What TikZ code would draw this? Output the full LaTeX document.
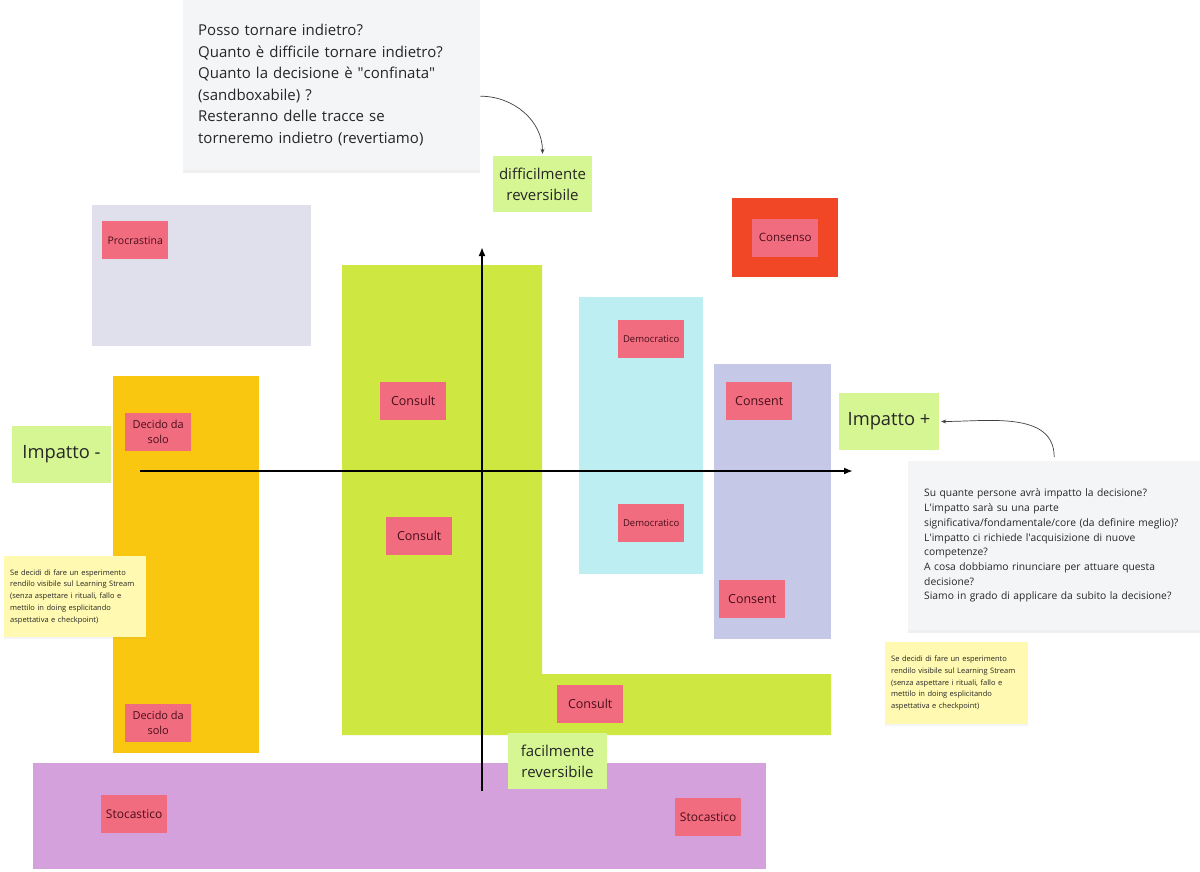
\documentclass[tikz,border=0pt]{standalone}
\usepackage{fontspec}
\setmainfont{Open Sans}
\usepackage{tikz}
\usetikzlibrary{positioning}
\usetikzlibrary{arrows.meta,shadows}

\definecolor{AreaGrey}{HTML}{E0E0EC}
\definecolor{AreaYellow}{HTML}{FAC710}
\definecolor{AreaGreen}{HTML}{CEE741}
\definecolor{AreaCyan}{HTML}{BCEEF2}
\definecolor{AreaBlue}{HTML}{C6C8E8}
\definecolor{AreaRed}{HTML}{F24726}
\definecolor{AreaPurple}{HTML}{D4A1DD}
\definecolor{StickyPink}{HTML}{F16C7F}
\definecolor{StickyText}{HTML}{4A0E1A}
\definecolor{LabelGreen}{HTML}{D5F692}
\definecolor{NoteYellow}{HTML}{FFF9B1}
\definecolor{NoteGrey}{HTML}{F4F5F7}

\newcommand{\stickyfont}{\fontsize{11}{15}\selectfont}
\newcommand{\labelfont}{\fontsize{15}{21}\selectfont}
\newcommand{\bigfont}{\fontsize{18.3}{22}\selectfont}
\newcommand{\topnotefont}{\fontsize{15}{21.5}\selectfont}
\newcommand{\rightnotefont}{\fontsize{10.3}{14.7}\selectfont}
\newcommand{\tinyfont}{\fontsize{7.5}{11.8}\selectfont}
\newcommand{\apo}{\textquotesingle}

\begin{document}
\begin{tikzpicture}[x=1pt, y=-1pt,
    area/.style = {rectangle, draw=none, inner sep=0pt, anchor=north west},
    sticky/.style = {rectangle, fill=StickyPink, minimum width=66pt, minimum height=38pt,
                     inner sep=0pt, align=center, text=StickyText, font=\stickyfont},
    axislabel/.style = {rectangle, fill=LabelGreen, inner sep=0pt, align=center, text=black!85},
    graynote/.style = {rectangle, fill=NoteGrey, anchor=north west, align=left, inner ysep=0pt,
                       text=black!85, drop shadow={shadow xshift=0pt, shadow yshift=-3pt, opacity=0.12}},
    yellownote/.style = {rectangle, fill=NoteYellow, anchor=north west, align=left, inner ysep=0pt,
                         inner xsep=6pt, text=black!85, font=\tinyfont,
                         drop shadow={shadow xshift=0pt, shadow yshift=-2pt, opacity=0.08}},
    axis/.style = {line width=1.8pt, -{Latex[length=9pt,width=7pt]}},
    hint/.style = {draw=black!75, line width=0.7pt, -{Stealth[length=5pt,width=4pt]}}
]

    \fill[white] (0,0) rectangle (1200,872);
    \useasboundingbox (0,0) rectangle (1200,872);

    %Areas
    \node[area, fill=AreaGrey, minimum width=219pt, minimum height=141pt] (procarea) at (92,205) {};
    \node[area, fill=AreaYellow, minimum width=146pt, minimum height=377pt] (soloarea) at (113,376) {};
    \fill[AreaGreen] (342,265) -- (542,265) -- (542,674) -- (831,674) -- (831,735) -- (342,735) -- cycle;
    \coordinate (consultarea) at (342,265);
    \node[area, fill=AreaCyan, minimum width=124pt, minimum height=277pt] (demoarea) at (579,297) {};
    \node[area, fill=AreaBlue, minimum width=117pt, minimum height=275pt] (consentarea) at (714,364) {};
    \node[area, fill=AreaRed, minimum width=106pt, minimum height=79pt] (consensoarea) at (732,198) {};
    \node[area, fill=AreaPurple, minimum width=733pt, minimum height=106pt] (stocarea) at (33,763) {};

    %Axes
    \coordinate (XStart) at (140,471);
    \coordinate (XEnd) at (853,471);
    \coordinate (YStart) at (482,791);
    \coordinate (YEnd) at (482,247);

    \draw[axis] (XStart) -- (XEnd);
    \draw[axis] (YStart) -- (YEnd);

    %Axis labels
    \node[axislabel, minimum width=99pt, minimum height=56pt, font=\labelfont] (Hard) at (542.5,184) {difficilmente\\reversibile};
    \node[axislabel, minimum width=99pt, minimum height=56pt, font=\labelfont] (Easy) at (557.5,761) {facilmente\\reversibile};
    \node[axislabel, minimum width=99pt, minimum height=57pt, font=\bigfont] (ImpMinus) at (61.5,454.5) {Impatto -};
    \node[axislabel, minimum width=100pt, minimum height=57pt, font=\bigfont] (ImpPlus) at (889,421.5) {Impatto +};

    %Stickies
    \node[sticky, below right = 16pt and 10pt of procarea.north west, font=\fontsize{10.5}{14}\selectfont] (Procrastina) {Procrastina};
    \node[sticky, font=\fontsize{11.5}{15}\selectfont] (Consenso) at (consensoarea) {Consenso};

    \node[sticky, below right = 37pt and 12pt of soloarea.north west] (Solo1) {Decido da\\solo};
    \node[sticky, below right = 328pt and 12pt of soloarea.north west] (Solo2) {Decido da\\solo};

    \node[sticky, below right = 117pt and 38pt of consultarea, font=\fontsize{12.5}{15}\selectfont] (Consult1) {Consult};
    \node[sticky, below right = 252pt and 44pt of consultarea, font=\fontsize{12.5}{15}\selectfont] (Consult2) {Consult};
    \node[sticky, below right = 420pt and 215pt of consultarea, font=\fontsize{12.5}{15}\selectfont] (Consult3) {Consult};

    \node[sticky, below right = 23pt and 39pt of demoarea.north west, font=\fontsize{9.5}{12}\selectfont] (Demo1) {Democratico};
    \node[sticky, below right = 207pt and 39pt of demoarea.north west, font=\fontsize{9.5}{12}\selectfont] (Demo2) {Democratico};

    \node[sticky, below right = 18pt and 12pt of consentarea.north west, font=\fontsize{12.5}{15}\selectfont] (Consent1) {Consent};
    \node[sticky, below right = 216pt and 5pt of consentarea.north west, font=\fontsize{12.5}{15}\selectfont] (Consent2) {Consent};

    \node[sticky, below right = 32pt and 68pt of stocarea.north west, font=\fontsize{12}{15}\selectfont] (Stoc1) {Stocastico};
    \node[sticky, below right = 35pt and 642pt of stocarea.north west, font=\fontsize{12}{15}\selectfont] (Stoc2) {Stocastico};

    %-------------------------------------------
    %Notes

    \node[graynote, text width=267pt, inner xsep=15pt, minimum height=170pt, font=\topnotefont] (TopNote) at (183,0) {Posso tornare indietro?\\
        Quanto è difficile tornare indietro?\\
        Quanto la decisione è \textquotedbl confinata\textquotedbl\\
        (sandboxabile) ?\\
        Resteranno delle tracce se\\
        torneremo indietro (revertiamo)};

    \node[graynote, text width=260pt, inner xsep=16pt, minimum height=169pt, font=\rightnotefont] (RightNote) at (908,461) {Su quante persone avrà impatto la decisione?\\
        L\apo impatto sarà su una parte\\
        significativa/fondamentale/core (da definire meglio)?\\
        L\apo impatto ci richiede l\apo acquisizione di nuove\\
        competenze?\\
        A cosa dobbiamo rinunciare per attuare questa\\
        decisione?\\
        Siamo in grado di applicare da subito la decisione?};

    \node[yellownote, text width=130pt, minimum height=81pt] (LeftTip) at (4,556) {Se decidi di fare un esperimento\\
        rendilo visibile sul Learning Stream\\
        (senza aspettare i rituali, fallo e\\
        mettilo in doing esplicitando\\
        aspettativa e checkpoint)};

    \node[yellownote, text width=131pt, minimum height=82pt] (RightTip) at (885,642) {Se decidi di fare un esperimento\\
        rendilo visibile sul Learning Stream\\
        (senza aspettare i rituali, fallo e\\
        mettilo in doing esplicitando\\
        aspettativa e checkpoint)};

    %Hints
    \draw[hint] ([yshift=-11pt]TopNote.east) to[out=0, in=90] ([yshift=2pt]Hard.north);
    \draw[hint] ([yshift=4pt]RightNote.north) to[out=90, in=0] ([xshift=2pt]ImpPlus.east);

\end{tikzpicture}
\end{document}
